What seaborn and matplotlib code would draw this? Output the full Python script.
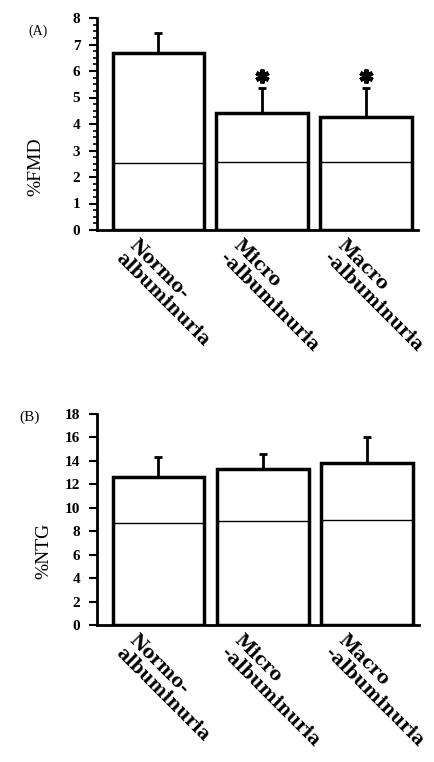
import matplotlib
matplotlib.use("Agg")
import matplotlib.pyplot as plt
import matplotlib.transforms as mtransforms
from matplotlib.ticker import MultipleLocator
import seaborn as sns
import pandas as pd

# ---- data ----
categories = ["Normo-\nalbuminuria", "Micro\n-albuminuria", "Macro\n-albuminuria"]

fmd_mean = [6.68, 4.42, 4.27]
fmd_err = [0.75, 0.95, 1.09]
fmd_ref = [2.53, 2.55, 2.58]
fmd_sig = [False, True, True]

ntg_mean = [12.6, 13.35, 13.8]
ntg_err = [1.75, 1.25, 2.2]
ntg_ref = [8.68, 8.85, 8.95]
ntg_sig = [False, False, False]

sns.set_theme(style="ticks")
plt.rcParams["font.family"] = ["Liberation Serif", "DejaVu Serif"]
plt.rcParams["axes.linewidth"] = 2.0
for k in ["text.color", "axes.labelcolor", "xtick.color", "ytick.color", "axes.edgecolor"]:
    plt.rcParams[k] = "black"

fig = plt.figure(figsize=(4.35, 7.62), dpi=100)
axA = fig.add_axes([97/435, 1-230/762, (418-97)/435, (230-18)/762])
axB = fig.add_axes([97/435, 1-625/762, (419-97)/435, (625-414)/762])


def panel(ax, mean, err, ref, sig, ymax, major, minor, ylabel, ylab_y, ylab_x):
    df = pd.DataFrame({"group": categories, "value": mean})
    sns.barplot(data=df, x="group", y="value", color="white", edgecolor="black",
                linewidth=2.5, width=0.88, errorbar=None, ax=ax, saturation=1)
    for p in ax.patches:
        p.set_facecolor("white")
    xs = [p.get_x() + p.get_width()/2 for p in ax.patches]
    ax.errorbar(xs, mean, yerr=[[0]*len(err), err], fmt="none", ecolor="black",
                elinewidth=2, capsize=3, capthick=2, zorder=1)
    for p, r in zip(ax.patches, ref):
        ax.hlines(r, p.get_x(), p.get_x() + p.get_width(), color="black", lw=1, zorder=3)
    for x, m, e, s in zip(xs, mean, err, sig):
        if s:
            ax.plot(x, m + e + ymax*0.055, marker=(6, 2, 0), markersize=10,
                    mew=3, color="black", zorder=4)
    ax.set_ylim(0, ymax)
    ax.set_xlim(-0.59, 2.5)
    ax.yaxis.set_major_locator(MultipleLocator(major))
    if minor:
        ax.yaxis.set_minor_locator(MultipleLocator(minor))
    sns.despine(ax=ax)
    ax.tick_params(axis="y", which="major", length=6, width=1.5, direction="out",
                   labelsize=11, pad=6)
    ax.tick_params(axis="y", which="minor", length=3, width=1.2, direction="out")
    ax.tick_params(axis="x", length=0, pad=3)
    for lab in ax.get_yticklabels():
        lab.set_fontweight("bold")
    ax.set_xlabel("")
    ax.set_xticks(range(len(categories)))
    ax.set_xticklabels(categories, rotation=-45, ha="left", va="top",
                       rotation_mode="anchor", fontsize=13, fontweight="bold",
                       family="DejaVu Serif", linespacing=1.05)
    off = mtransforms.ScaledTranslation(-0.2, -0.02, fig.dpi_scale_trans)
    for lab in ax.get_xticklabels():
        lab.set_transform(lab.get_transform() + off)
    ax.set_ylabel(ylabel, fontsize=14)
    ax.yaxis.set_label_coords(ylab_x, ylab_y)


panel(axA, fmd_mean, fmd_err, fmd_ref, fmd_sig, 8, 1, 0.25, "%FMD", 0.30, -0.165)
panel(axB, ntg_mean, ntg_err, ntg_ref, ntg_sig, 18, 2, None, "%NTG", 0.35, -0.14)

fig.text(38/435, 1-31/762, "(A)", fontsize=10, ha="center", va="center")
fig.text(30/435, 1-417/762, "(B)", fontsize=11, ha="center", va="center")

fig.savefig("out.png", dpi=100)
